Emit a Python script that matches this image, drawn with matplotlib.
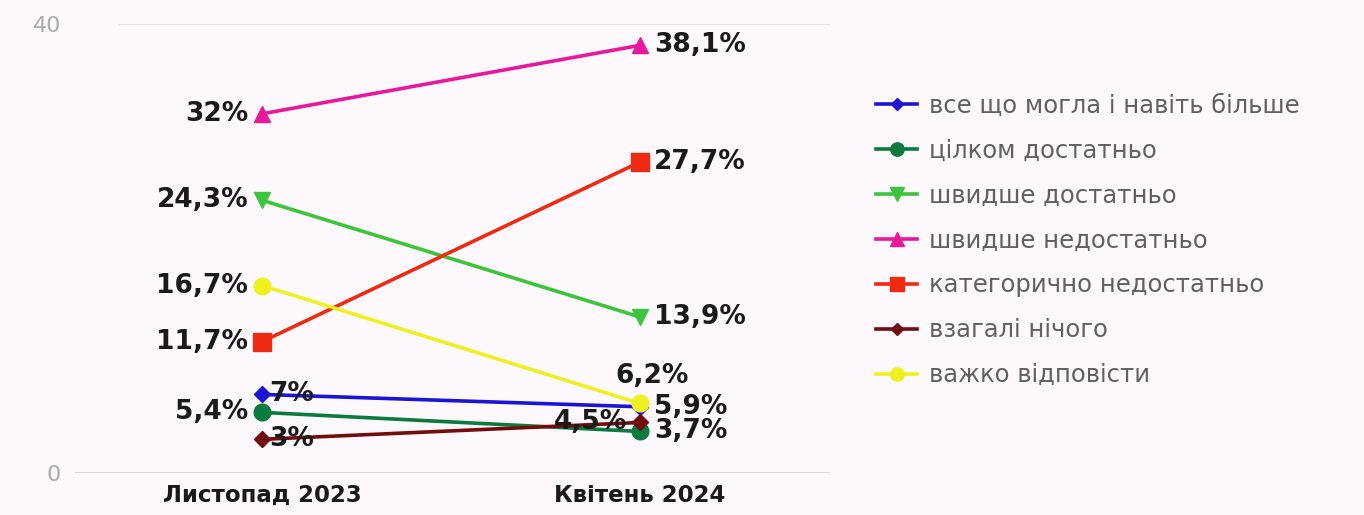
import matplotlib.pyplot as plt
from matplotlib.lines import Line2D

# data
periods = ["Листопад 2023", "Квітень 2024"]
series_names = [
    "все що могла і навіть більше",
    "цілком достатньо",
    "швидше достатньо",
    "швидше недостатньо",
    "категорично недостатньо",
    "взагалі нічого",
    "важко відповісти",
]
nov_2023 = [7.0, 5.4, 24.3, 32.0, 11.7, 3.0, 16.7]
apr_2024 = [5.9, 3.7, 13.9, 38.1, 27.7, 4.5, 6.2]
label_nov = ["7%", "5,4%", "24,3%", "32%", "11,7%", "3%", "16,7%"]
label_apr = ["5,9%", "3,7%", "13,9%", "38,1%", "27,7%", "4,5%", "6,2%"]

colors = ["#1c14d4", "#0b7a3e", "#3dc43d", "#e8189c", "#ee2a12", "#730c0c", "#eef020"]
markers = ["D", "o", "v", "^", "s", "D", "o"]
msizes = [8, 12, 12, 12, 13, 8, 12]
# (dx, dy, ha) in points for each label
place_nov = [(5, 0, "left"), (-10, 0, "right"), (-10, 0, "right"), (-10, 0, "right"),
             (-10, 0, "right"), (5, 0, "left"), (-10, 0, "right")]
place_apr = [(10, 0, "left"), (10, 0, "left"), (10, 0, "left"), (10, 0, "left"),
             (10, 0, "left"), (-9, 0, "right"), (9, 20, "center")]

bg = "#fdf8fb"
fig = plt.figure(figsize=(13.64, 5.15), dpi=100, facecolor=bg)
ax = fig.add_axes([75 / 1364, 42 / 515, 755 / 1364, 449 / 515], facecolor=bg)

x = [0, 1]
for i, name in enumerate(series_names):
    ax.plot(x, [nov_2023[i], apr_2024[i]], color=colors[i], lw=2.6,
            marker=markers[i], ms=msizes[i], clip_on=False, zorder=3)
    for xi, yi, lab, pl in [(0, nov_2023[i], label_nov[i], place_nov[i]),
                            (1, apr_2024[i], label_apr[i], place_apr[i])]:
        ax.annotate(lab, (xi, yi), xytext=(pl[0], pl[1]), textcoords="offset points",
                    ha=pl[2], va="center", fontsize=19, fontweight="bold",
                    color="#1a1a1a", zorder=4)

ax.set_xlim(-0.495, 1.503)
ax.set_ylim(0, 40)
ax.set_yticks([0, 40])
ax.set_xticks(x)
ax.set_xticklabels(periods, fontsize=16.5, fontweight="bold", color="#1a1a1a")
ax.tick_params(axis="both", length=0)
ax.tick_params(axis="y", labelsize=16, labelcolor="#aaaaaa", pad=10)
ax.tick_params(axis="x", pad=8)
ax.axhline(40, xmin=0.06, color="#e6e2e4", lw=1.5, zorder=1)
ax.axhline(0, color="#d5d5d5", lw=1.2, zorder=1)
for s in ax.spines.values():
    s.set_visible(False)

handles = [Line2D([0], [0], color=c, lw=2.6, marker=m, ms=ms * 0.8)
           for c, m, ms in zip(colors, markers, msizes)]
fig.legend(handles, series_names, loc="upper left", bbox_to_anchor=(854 / 1364, 1 - 72 / 515),
           frameon=False, fontsize=17.5, labelcolor="#606060", handlelength=1.7,
           handletextpad=0.5, labelspacing=0.86)

plt.savefig("out.png", dpi=100, facecolor=bg)
